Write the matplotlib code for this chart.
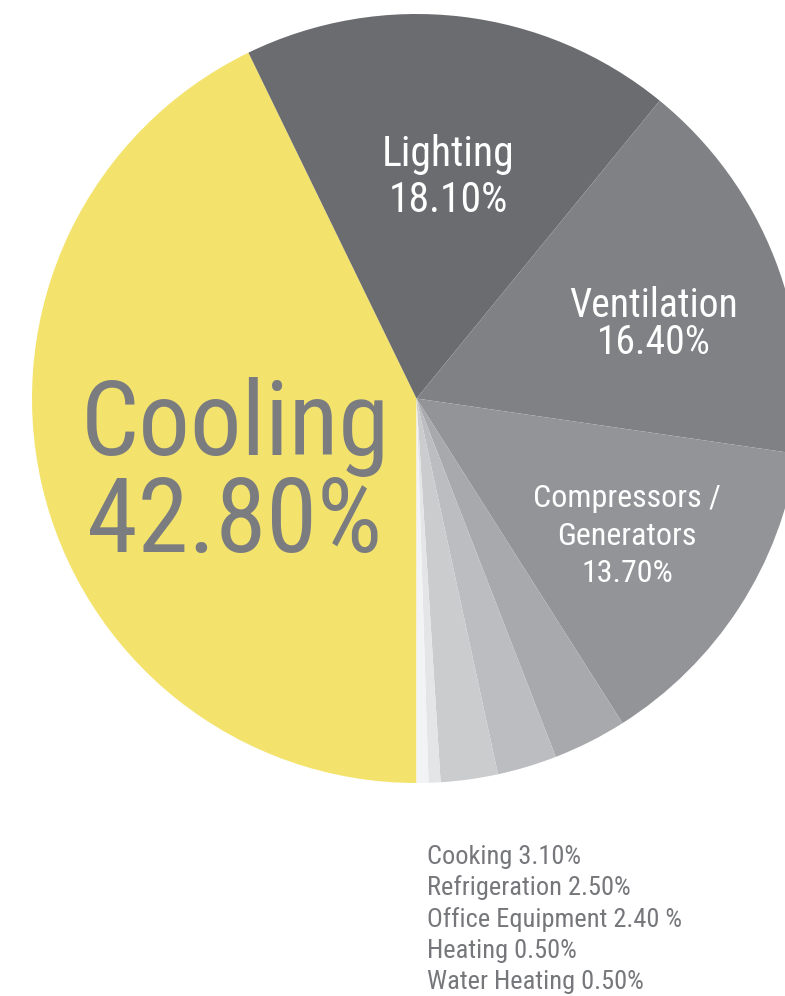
import matplotlib
matplotlib.use("Agg")
import matplotlib.pyplot as plt
from matplotlib import font_manager

# ---- data ----
categories = ["Cooling", "Lighting", "Ventilation", "Compressors / Generators",
              "Cooking", "Refrigeration", "Office Equipment", "Heating", "Water Heating"]
values = [42.8, 18.1, 16.4, 13.7, 3.1, 2.5, 2.4, 0.5, 0.5]
colors = ["#F3E36D", "#6B6C70", "#808185", "#939498",
          "#A8A9AC", "#BCBDC0", "#CBCCCE", "#E4E5E7", "#F2F3F5"]
cooling_lines = ["Cooling", "42.80%"]
lighting_lines = ["Lighting", "18.10%"]
ventilation_lines = ["Ventilation", "16.40%"]
compressor_lines = ["Compressors /", "Generators", "13.70%"]
list_labels = ["Cooking 3.10%", "Refrigeration 2.50%", "Office Equipment 2.40 %",
               "Heating 0.50%", "Water Heating 0.50%"]

available = {f.name for f in font_manager.fontManager.ttflist}
candidates = ["Roboto Condensed", "Fira Sans Condensed", "Archivo Narrow", "Roboto"]
present = [c for c in candidates if c in available]
FONT = [present[0] if present else "DejaVu Sans", "DejaVu Sans"]

W, H = 785, 996
fig = plt.figure(figsize=(W / 100, H / 100), dpi=100)
ax = fig.add_axes([0, 0, 1, 1])

cx, cy, r = 416.5, H - 398.5, 384.5
ax.pie(values, colors=colors, startangle=270, counterclock=False,
       center=(cx, cy), radius=r, wedgeprops=dict(linewidth=0))
ax.set_xlim(0, W)
ax.set_ylim(0, H)
ax.set_aspect("equal")
ax.axis("off")


def block(lines, x, baselines, size, color, ha="center"):
    for txt, yb in zip(lines, baselines):
        ax.text(x, H - yb, txt, ha=ha, va="baseline", fontsize=size,
                color=color, family=FONT)


block(cooling_lines, 235, [455, 552], 74, "#7B7C80")
block(lighting_lines, 448, [166, 212], 30, "white")
block(ventilation_lines, 654, [317, 354], 28.5, "white")
block(compressor_lines, 627, [507, 545, 582], 23, "white")
block(list_labels, 427, [864, 895, 927, 958, 989], 19, "#76777B", ha="left")

fig.savefig("out.png", dpi=100)
